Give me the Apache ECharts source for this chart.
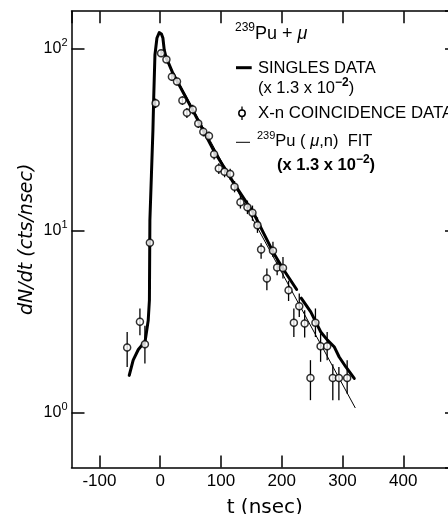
<!DOCTYPE html>
<html><head><meta charset="utf-8">
<script src="https://cdn.jsdelivr.net/npm/echarts@6/dist/echarts.min.js"></script>
<style>html,body{margin:0;padding:0;background:#fff}#c{width:448px;height:514px}</style>
</head><body><div id="c"></div>
<script>
// X-n coincidence data (t in nsec, dN/dt, error bar low, error bar high)
const coincT  = [-54.4,-33.4,-25.2,-17,-7.6,1.4,10.2,19.2,27.6,36.5,43.9,53.5,62.6,70.9,80.2,88.7,96.4,105.9,115.1,122.3,132,143.5,151.8,160,166,175.5,185.5,192.4,202,211.2,228.8,219.9,237.7,255.4,263.9,274.7,247.2,284,294,307.6];
const coincV  = [2.28,3.15,2.37,8.55,50,94,87,69.8,65.8,51.7,44.3,46.2,38.7,34.8,33.0,26.2,21.9,21.0,20.4,17.4,14.3,13.4,12.5,10.7,7.87,5.45,7.75,6.26,6.23,4.70,3.84,3.11,3.08,3.11,2.31,2.31,1.55,1.55,1.55,1.55];
const coincLo = [1.78,2.66,1.86,8.0,47,90,83,66.5,62.5,49,41.5,43.5,36.5,32.8,31,24.5,20.4,19.6,19,16.2,13.2,12.3,11.3,9.7,7.0,4.70,7.16,5.68,5.45,4.1,3.35,2.60,2.58,2.60,1.90,1.94,1.17,1.17,1.17,1.27];
const coincHi = [2.77,3.73,3.0,9.1,53,98,91,73,69,54.5,47,49,41,36.8,35,28,23.4,22.5,21.8,18.7,15.5,14.6,13.7,11.8,8.5,6.18,8.66,6.9,7.16,5.3,4.51,3.73,3.65,3.73,2.72,2.77,1.94,1.84,1.78,1.94];
// Singles data curve (x 1.3e-2); null = break in the trace
const singlesT = [-51,-44.5,-36,-29,-25,-23.4,-19.8,-17.8,-17,-14.5,-12,-10.7,-8.7,-5.4,-1.6,2,4.4,6.6,9.4,20,32.8,54.8,88,121,154,170.5,187,203.6,224.5,null,232,247.7,255.9,264.2,275.2,286.2,294.5,305.5,319.3];
const singlesV = [1.6,1.94,2.22,2.37,2.45,2.66,3.2,4.14,11.4,20.1,35.6,54,92,114,122,120,114,98,89.8,74,61.5,44.9,27.5,18.2,12.4,9.6,7.47,6.05,4.74,null,4.25,3.57,3.15,2.77,2.5,2.3,2.02,1.78,1.54];
// 239Pu (mu,n) fit (x 1.3e-2): exponential, straight on the log axis
const fitT = [2, 321];
const fitV = [97, 1.06];

const chart = echarts.init(document.getElementById('c'), null, {renderer:'canvas'});
const ink = '#000';
const sans = 'Liberation Sans, Arial, sans-serif';
const frameAxis = {
  axisLine:{show:true, onZero:false, lineStyle:{color:ink, width:1.5}},
  axisTick:{show:true, inside:true, length:12, lineStyle:{color:ink, width:1.5}},
  splitLine:{show:false}, minorTick:{show:false}, minorSplitLine:{show:false}
};
const yTick = {axisTick:{show:true, inside:true, length:13, lineStyle:{color:ink, width:1.5}}};
function supFmt(v){
  const e = Math.log10(v), r = Math.round(e);
  if (Math.abs(e - r) > 1e-6) return '';
  return '{b|10}{s|' + r + '}';
}
const option = {
  backgroundColor:'#fff',
  animation:false,
  grid:{left:71.5, top:11.2, width:386.5, height:456.2, containLabel:false, outerBoundsMode:'none'},
  xAxis:[
    Object.assign({type:'value', min:-146, max:490, position:'bottom',
      axisLabel:{showMinLabel:false, showMaxLabel:false, color:ink, fontSize:17, fontFamily:sans, margin:5},
      name:'t (nsec)', nameLocation:'middle', nameGap:30, nameMoveOverlap:false,
      nameTextStyle:{fontFamily:'DejaVu Sans', fontSize:20, color:ink}}, frameAxis),
    Object.assign({type:'value', min:-146, max:490, position:'top', axisLabel:{show:false}}, frameAxis)
  ],
  yAxis:[
    Object.assign({type:'log', logBase:10, min:0.5, max:160, position:'left',
      axisLabel:{showMinLabel:false, showMaxLabel:false, formatter:supFmt, margin:4,
        rich:{b:{fontSize:16, fontFamily:sans, color:ink, lineHeight:22},
              s:{fontSize:11, fontFamily:sans, color:ink, verticalAlign:'top', lineHeight:22}}},
      name:'dN/dt (cts/nsec)', nameLocation:'middle', nameGap:35, nameRotate:90, nameMoveOverlap:false,
      nameTextStyle:{fontFamily:'DejaVu Sans', fontSize:19, fontStyle:'italic', color:ink}}, frameAxis, yTick),
    Object.assign({type:'log', logBase:10, min:0.5, max:160, position:'right', axisLabel:{show:false}}, frameAxis, yTick)
  ],
  series:[
    {type:'line', name:'fit', data:fitT.map((t,i)=>[t,fitV[i]]), symbol:'none',
      lineStyle:{color:ink, width:1}, z:2},
    {type:'line', name:'singles', data:singlesT.map((t,i)=> t===null ? [null,null] : [t,singlesV[i]]), symbol:'none',
      connectNulls:false, lineStyle:{color:ink, width:3, cap:'round', join:'round'}, z:3},
    {type:'custom', name:'errors', data:coincT.map((t,i)=>[t,coincLo[i],coincHi[i]]),
      encode:{x:0, y:[1,2]}, z:4,
      renderItem:function(params, api){
        const a = api.coord([api.value(0), api.value(1)]);
        const b = api.coord([api.value(0), api.value(2)]);
        return {type:'line', shape:{x1:a[0], y1:a[1], x2:b[0], y2:b[1]}, style:{stroke:ink, lineWidth:1.3}};
      }},
    {type:'scatter', name:'coinc', data:coincT.map((t,i)=>[t,coincV[i]]), symbol:'circle', symbolSize:7,
      itemStyle:{color:'#fff', borderColor:ink, borderWidth:1.5}, z:5}
  ],
  graphic:[
    {type:'text', left:235, top:22, style:{text:'{s|239}{b|Pu + }{m|μ}',
      rich:{s:{fontSize:12, fontFamily:sans, fill:ink, verticalAlign:'top', lineHeight:24},
            b:{fontSize:18, fontFamily:sans, fill:ink, lineHeight:24},
            m:{fontSize:18, fontFamily:sans, fontStyle:'italic', fill:ink, lineHeight:24}}}},
    {type:'line', shape:{x1:236, y1:67.7, x2:251.7, y2:67.7}, style:{stroke:ink, lineWidth:3}},
    {type:'text', left:258, top:60, style:{text:'SINGLES DATA', fontSize:16.5, fontFamily:sans, fill:ink}},
    {type:'text', left:258, top:77, style:{text:'(x 1.3 x 10{s|−2})',
      font:'16.5px ' + sans, fill:ink,
      rich:{s:{fontSize:12, fontFamily:sans, fontWeight:'bold', fill:ink, verticalAlign:'top', lineHeight:22}}}},
    {type:'line', shape:{x1:242, y1:106.5, x2:242, y2:120}, style:{stroke:ink, lineWidth:1.3}},
    {type:'circle', shape:{cx:242, cy:113.3, r:3.2}, style:{fill:'#fff', stroke:ink, lineWidth:1.5}},
    {type:'text', left:258, top:104.5, style:{text:'X-n COINCIDENCE DATA', fontSize:16.8, fontFamily:sans, fill:ink}},
    {type:'line', shape:{x1:236, y1:142.3, x2:250, y2:142.3}, style:{stroke:ink, lineWidth:1}},
    {type:'text', left:257, top:130, style:{text:'{s|239}{b|Pu ( }{m|μ}{b|,n)  FIT}',
      rich:{s:{fontSize:11, fontFamily:sans, fill:ink, verticalAlign:'top', lineHeight:22},
            b:{fontSize:16.5, fontFamily:sans, fill:ink, lineHeight:22},
            m:{fontSize:16.5, fontFamily:sans, fontStyle:'italic', fill:ink, lineHeight:22}}}},
    {type:'text', left:277, top:154, style:{text:'{b|(x 1.3 x 10}{s|−2}{b|)}',
      rich:{b:{fontSize:16.5, fontFamily:sans, fontWeight:'bold', fill:ink, lineHeight:22},
            s:{fontSize:12, fontFamily:sans, fontWeight:'bold', fill:ink, verticalAlign:'top', lineHeight:22}}}}
  ]
};
chart.setOption(option);
</script>
</body></html>
